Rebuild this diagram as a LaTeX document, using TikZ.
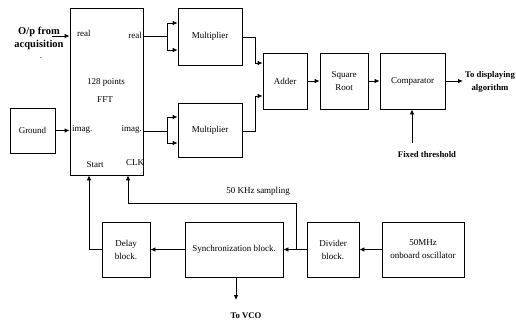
\documentclass[tikz,border=0pt]{standalone}
\usepackage{fontspec}
\setmainfont{Liberation Serif}
\usetikzlibrary{arrows.meta,calc}
\begin{document}
\begin{tikzpicture}[x=1pt,y=-1pt,
  blk/.style={draw,line width=0.8pt,rectangle,inner sep=0pt,align=center,font=\fontsize{9}{13}\selectfont},
  lbl/.style={inner sep=0pt,font=\fontsize{9}{10}\selectfont,align=center},
  blbl/.style={inner sep=0pt,font=\fontsize{8.7}{13}\selectfont\bfseries,align=center},
  ln/.style={line width=0.8pt},
  arr/.style={line width=0.8pt,-{Latex[length=5pt,width=4.5pt]}}]
\useasboundingbox (0,0) rectangle (516,325);
% blocks
\node[blk,minimum width=73pt,minimum height=167pt] (fft) at (106.5,91.5) {};
\node[blk,minimum width=45pt,minimum height=45pt] (gnd) at (32.5,130.5) {Ground};
\node[blk,minimum width=64pt,minimum height=57pt] (m1) at (210,36.5) {Multiplier};
\node[blk,minimum width=64pt,minimum height=54pt] (m2) at (210,130) {Multiplier};
\node[blk,minimum width=44pt,minimum height=56pt] (add) at (285,81) {Adder};
\node[blk,minimum width=48pt,minimum height=56pt] (sq) at (344,81) {Square\\Root};
\node[blk,minimum width=65pt,minimum height=56pt] (cmp) at (412.5,81) {Comparator};
\node[blk,minimum width=48pt,minimum height=55pt] (dly) at (126,249.5) {Delay\\block.};
\node[blk,minimum width=98pt,minimum height=55pt] (syn) at (234,249.5) {Synchronization block.};
\node[blk,minimum width=52pt,minimum height=55pt] (div) at (333,249.5) {Divider\\block.};
\node[blk,minimum width=82pt,minimum height=55pt] (osc) at (423,249.5) {50MHz\\onboard oscillator};
% FFT inner labels
\node[lbl,anchor=west] (rin) at (77,33) {real};
\node[lbl,anchor=east] (rout) at (142,35) {real};
\node[lbl] (pts) at (106,82) {128 points};
\node[lbl] (fftl) at (105,100) {FFT};
\node[lbl,anchor=west] (iin) at (72,129) {imag.};
\node[lbl,anchor=east] (iout) at (142,129) {imag.};
\node[lbl] (st) at (95,165) {Start};
\node[lbl] (clk) at (135,163) {CLK};
% external labels
\node[inner sep=0pt,font=\fontsize{10.5}{13}\selectfont\bfseries,align=center] (acq) at (39,38) {O/p from\\acquisition};
\node[lbl] (dot) at (41,58) {.};
\node[blbl] (disp) at (490,82) {To displaying\\algorithm};
\node[blbl] (thr) at (427,155) {Fixed threshold};
\node[lbl] (khz) at (258,191) {50 KHz sampling};
\node[blbl] (vco) at (246,316) {To VCO};
% inputs to FFT
\coordinate (acqE) at (52,36);
\draw[arr] (acqE) -- (fft.west |- acqE);
\draw[arr] (gnd.east) -- (fft.west |- gnd.east);
% real fork
\coordinate (fr) at (167,36);
\coordinate (fr1) at (167,23);
\coordinate (fr2) at (167,50);
\draw[ln] (fft.east |- fr) -- (fr);
\draw[ln] (fr1) -- (fr2);
\draw[arr] (fr1) -- (m1.west |- fr1);
\draw[arr] (fr2) -- (m1.west |- fr2);
% imag fork
\coordinate (fi) at (167,131);
\coordinate (fi1) at (167,117);
\coordinate (fi2) at (167,143);
\draw[ln] (fft.east |- fi) -- (fi);
\draw[ln] (fi1) -- (fi2);
\draw[arr] (fi1) -- (m2.west |- fi1);
\draw[arr] (fi2) -- (m2.west |- fi2);
% multipliers to adder
\coordinate (a1) at (255,37);
\coordinate (a1b) at (255,63);
\draw[arr] (m1.east |- a1) -- (a1) -- (a1b) -- (add.west |- a1b);
\coordinate (a2) at (255,131);
\coordinate (a2b) at (255,96);
\draw[arr] (m2.east |- a2) -- (a2) -- (a2b) -- (add.west |- a2b);
% chain
\draw[arr] (add) -- (sq);
\draw[arr] (sq) -- (cmp);
\coordinate (outE) at (463,81);
\draw[arr] (cmp.east) -- (outE);
\coordinate (thrT) at (412,143);
\draw[arr] (thrT) -- (cmp.south -| thrT);
% bottom row
\draw[arr] (osc) -- (div);
\draw[arr] (div) -- (syn);
\draw[arr] (syn) -- (dly);
\coordinate (st1) at (89,249.5);
\draw[arr] (dly.west) -- (st1) -- (fft.south -| st1);
\coordinate (ck0) at (296,249.5);
\coordinate (ck1) at (296,203);
\coordinate (ck2) at (128,203);
\draw[arr] (ck0) -- (ck1) -- (ck2) -- (fft.south -| ck2);
\coordinate (vcoT) at (236,300);
\draw[arr] (syn.south -| vcoT) -- (vcoT);
\end{tikzpicture}
\end{document}
